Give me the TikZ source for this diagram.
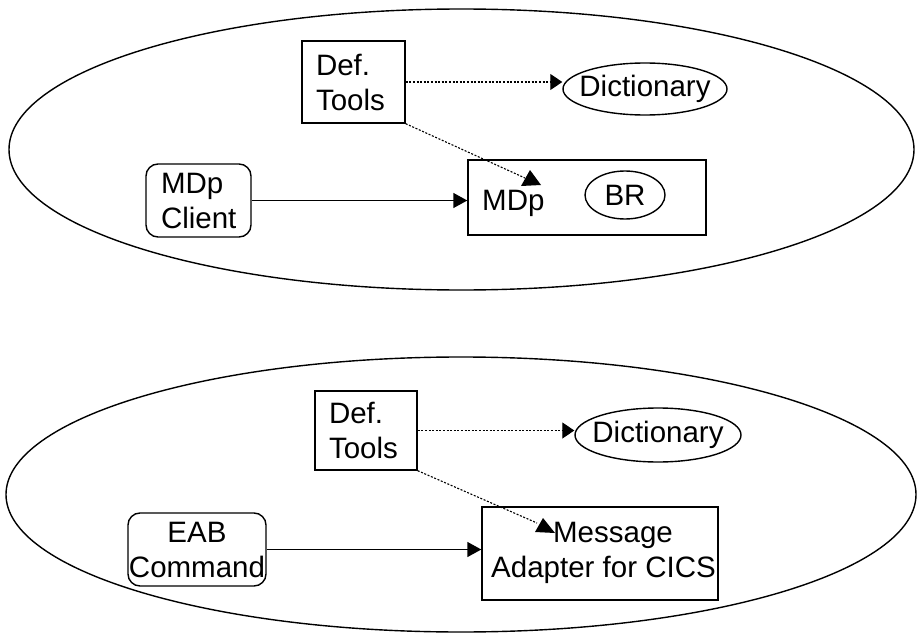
\documentclass[tikz,border=0pt]{standalone}
\usepackage{fontspec}
\setmainfont{Liberation Sans}
\usetikzlibrary{arrows.meta,shapes.geometric}
\begin{document}
\begin{tikzpicture}[x=1pt,y=-1pt,
  every node/.style={font=\fontsize{29.5}{35}\selectfont, inner sep=0pt},
  box/.style={draw, line width=1.4pt, rectangle},
  rbox/.style={draw, line width=1.4pt, rectangle, rounded corners=12pt},
  oval/.style={draw, line width=1.4pt, ellipse, inner sep=0pt},
  dots/.style={line width=1.1pt, dash pattern=on 2pt off 1.6pt},
  solidarrow/.style={line width=1.4pt, -{Triangle[length=14pt,width=15pt]}},
  dotarrow/.style={dots, -{Triangle[length=12pt,width=16pt]}},
]
\useasboundingbox (0,0) rectangle (919,634);
% ---------- top diagram ----------
\node[oval, minimum width=905, minimum height=281] (env1) at (461.5,149.5) {};
\node[box, minimum width=103, minimum height=82, text width=75, align=left] (dt1) at (353.5,82) {Def.\\Tools};
\node[oval, minimum width=164, minimum height=52] (dict1) at (645,89) {};
\node (dict1t) at (dict1.center) {Dictionary};
\node[rbox, minimum width=105, minimum height=73, text width=75, align=left] (mc) at (198.5,200.5) {MDp\\Client};
\node[box, minimum width=238, minimum height=75] (mdp) at (587,197.5) {};
\node[anchor=base west] (mdpt) at (482,210) {MDp};
\node[oval, minimum width=80, minimum height=48] (br) at (625,195) {};
\node (brt) at (br.center) {BR};
\coordinate (t1) at (525,178);
\draw[dotarrow] (dt1.east) -- (dt1.east -| dict1.west);
\draw[solidarrow] (mc.east) -- (mc.east -| mdp.west);
\draw[dots] (dt1.south east) -- (t1);
\fill (521,186) -- (530,170) -- (541,185) -- cycle;
% ---------- bottom diagram ----------
\node[oval, minimum width=910, minimum height=275] (env2) at (461,494.5) {};
\node[box, minimum width=102, minimum height=79, text width=74, align=left] (dt2) at (366,430.5) {Def.\\Tools};
\node[oval, minimum width=166, minimum height=54] (dict2) at (658,435) {};
\node (dict2t) at (dict2.center) {Dictionary};
\node[rbox, minimum width=138, minimum height=73, align=center] (eab) at (197,549.5) {EAB\\Command};
\node[box, minimum width=236, minimum height=93] (ma) at (600,553.5) {};
\node[align=center] (mat) at (603.5,553) {\hspace*{19pt}Message\\Adapter for CICS};
\coordinate (t2) at (537,523);
\draw[dotarrow] (dt2.east) -- (dt2.east -| dict2.west);
\draw[solidarrow] (eab.east) -- (eab.east -| ma.west);
\draw[dots] (dt2.south east) -- (t2);
\fill (535,532) -- (543,518) -- (555,533) -- cycle;
\end{tikzpicture}
\end{document}
